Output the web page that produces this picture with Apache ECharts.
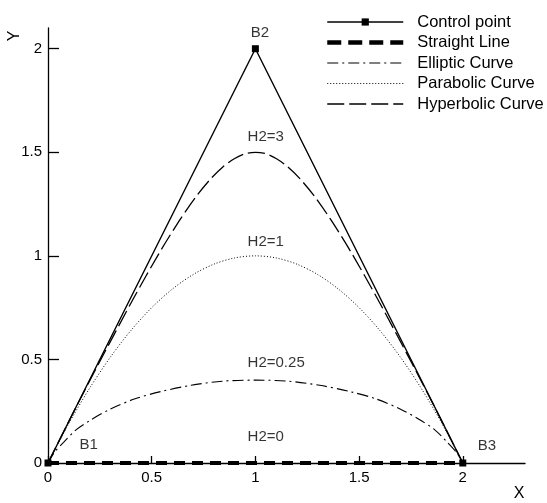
<!DOCTYPE html>
<html>
<head>
<meta charset="utf-8">
<script src="https://cdn.jsdelivr.net/npm/echarts@6/dist/echarts.min.js"></script>
<style>
  html, body { margin: 0; padding: 0; background: #fff; }
  #container { width: 547px; height: 503px; }
</style>
</head>
<body>
<div id="container"></div>
<script>
// control polygon B1, B2, B3
var controlPoints = [[0, 0], [1, 2], [2, 0]];
// H2 = 0
var straightLine = [[0, 0], [2, 0]];
// H2 = 0.25
var ellipticCurve = [
    [0, 0], [0.03, 0.05], [0.075, 0.10], [0.135, 0.16], [0.21, 0.21], [0.30, 0.26],
    [0.42, 0.31], [0.545, 0.345], [0.69, 0.375], [0.84, 0.395], [1, 0.40],
    [1.16, 0.395], [1.31, 0.375], [1.455, 0.345], [1.58, 0.31], [1.70, 0.26],
    [1.79, 0.21], [1.865, 0.16], [1.925, 0.10], [1.97, 0.05], [2, 0]
];
// H2 = 1
var parabolicCurve = [
    [0, 0], [0.1, 0.19], [0.2, 0.36], [0.3, 0.51], [0.4, 0.64], [0.5, 0.75],
    [0.6, 0.84], [0.7, 0.91], [0.8, 0.96], [0.9, 0.99], [1, 1],
    [1.1, 0.99], [1.2, 0.96], [1.3, 0.91], [1.4, 0.84], [1.5, 0.75],
    [1.6, 0.64], [1.7, 0.51], [1.8, 0.36], [1.9, 0.19], [2, 0]
];
// H2 = 3
var hyperbolicCurve = [
    [0, 0], [0.134, 0.267], [0.244, 0.479], [0.412, 0.794], [0.536, 1.013],
    [0.634, 1.171], [0.714, 1.286], [0.783, 1.370], [0.843, 1.429], [0.898, 1.469],
    [0.950, 1.493], [1, 1.5], [1.050, 1.493], [1.102, 1.469], [1.157, 1.429],
    [1.217, 1.370], [1.286, 1.286], [1.366, 1.171], [1.464, 1.013], [1.588, 0.794],
    [1.756, 0.479], [1.866, 0.267], [2, 0]
];
// text labels in the plot [x, y, text]
var annotations = [
    [0.15, 0.087, 'B1'],
    [0.975, 2.077, 'B2'],
    [2.07, 0.082, 'B3'],
    [0.96, 1.575, 'H2=3'],
    [0.96, 1.068, 'H2=1'],
    [0.96, 0.483, 'H2=0.25'],
    [0.96, 0.126, 'H2=0']
];
var tickValues = [0, 0.5, 1, 1.5, 2];
var seriesNames = ['Control point', 'Straight Line', 'Elliptic Curve', 'Parabolic Curve', 'Hyperbolic Curve'];

var font = 'Liberation Sans, Arial, Helvetica, sans-serif';
var dom = document.getElementById('container');
var myChart = echarts.init(dom);

var option = {
    animation: false,
    backgroundColor: '#fff',
    textStyle: { fontFamily: font, color: '#000' },
    grid: { left: 48, right: 22, top: 28, bottom: 40 },
    legend: {
        orient: 'vertical',
        left: 325,
        top: 13.5,
        padding: 0,
        itemWidth: 76,
        itemHeight: 9,
        itemGap: 3.5,
        selectedMode: false,
        textStyle: { fontSize: 16.5, color: '#000', fontFamily: font, padding: [0, 0, 0, 9] },
        data: [
            { name: seriesNames[0], lineStyle: { width: 1.3 } },
            { name: seriesNames[1], lineStyle: { width: 4.5, type: [14, 7] }, itemStyle: { opacity: 0 } },
            { name: seriesNames[2], lineStyle: { width: 1.2 }, itemStyle: { opacity: 0 } },
            { name: seriesNames[3], lineStyle: { width: 1 }, itemStyle: { opacity: 0 } },
            { name: seriesNames[4], lineStyle: { width: 1.3 }, itemStyle: { opacity: 0 } }
        ]
    },
    xAxis: {
        type: 'value',
        min: 0,
        max: 2.3,
        splitLine: { show: false },
        axisLine: { onZero: false, lineStyle: { color: '#000', width: 1.3 } },
        axisTick: { inside: true, length: 7, customValues: tickValues, lineStyle: { color: '#000', width: 1.3 } },
        axisLabel: { customValues: tickValues, margin: 7, fontSize: 15, color: '#000', fontFamily: font }
    },
    yAxis: {
        type: 'value',
        min: 0,
        max: 2.1,
        splitLine: { show: false },
        axisLine: { onZero: false, lineStyle: { color: '#000', width: 1.3 } },
        axisTick: { inside: true, length: 11, customValues: tickValues, lineStyle: { color: '#000', width: 1.3 } },
        axisLabel: { customValues: tickValues, margin: 6, fontSize: 15, color: '#000', fontFamily: font }
    },
    graphic: [
        { type: 'text', x: 15, y: 36, rotation: Math.PI / 2,
          style: { text: 'Y', font: '16px ' + font, fill: '#000', align: 'center', verticalAlign: 'middle' } },
        { type: 'text', x: 519, y: 494,
          style: { text: 'X', font: '16px ' + font, fill: '#000', align: 'center', verticalAlign: 'middle' } }
    ],
    series: [
        {
            name: seriesNames[1],
            type: 'line',
            data: straightLine,
            symbol: 'none',
            lineStyle: { color: '#000', width: 4, type: [11, 7] },
            z: 2
        },
        {
            name: seriesNames[2],
            type: 'line',
            data: ellipticCurve,
            smooth: 0.3,
            symbol: 'none',
            lineStyle: { color: '#000', width: 1.1, type: [11, 4, 2, 4] },
            z: 2
        },
        {
            name: seriesNames[3],
            type: 'line',
            data: parabolicCurve,
            smooth: 0.3,
            symbol: 'none',
            lineStyle: { color: '#000', width: 1, type: [1, 2] },
            z: 2
        },
        {
            name: seriesNames[4],
            type: 'line',
            data: hyperbolicCurve,
            smooth: 0.3,
            symbol: 'none',
            lineStyle: { color: '#000', width: 1.3, type: [17, 5] },
            z: 2
        },
        {
            name: seriesNames[0],
            type: 'line',
            data: controlPoints,
            symbol: 'rect',
            symbolSize: 7,
            itemStyle: { color: '#000' },
            lineStyle: { color: '#000', width: 1.4 },
            z: 3
        },
        {
            name: 'labels',
            type: 'scatter',
            silent: true,
            symbolSize: 1,
            itemStyle: { color: 'transparent' },
            data: annotations.map(function (a) {
                return { value: [a[0], a[1]], name: a[2] };
            }),
            label: {
                show: true,
                position: 'right',
                distance: 0,
                fontSize: 15,
                color: '#000',
                fontFamily: font,
                formatter: function (param) {
                    return param.data.name;
                }
            },
            z: 4
        }
    ]
};

if (option && typeof option === 'object') {
    myChart.setOption(option, true);
}
</script>
</body>
</html>
